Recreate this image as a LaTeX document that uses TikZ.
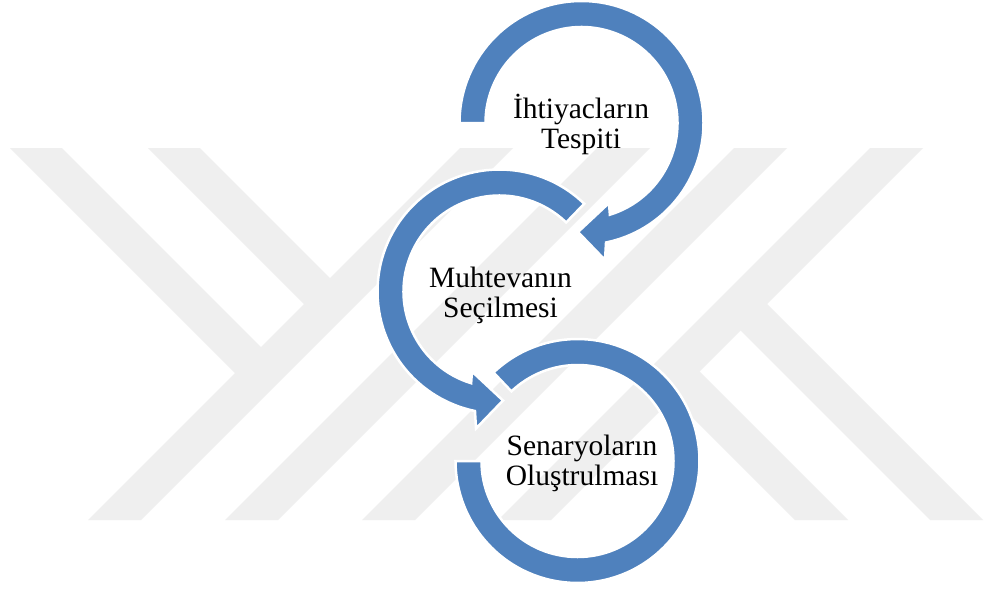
\documentclass[tikz,border=0pt]{standalone}
\usepackage{fontspec}
\setmainfont{Liberation Serif}
\usetikzlibrary{calc}
\definecolor{arrowblue}{RGB}{79,129,189}
\definecolor{wmgray}{RGB}{239,239,239}
\begin{document}
\begin{tikzpicture}[x=1pt,y=1pt,
  ring/.style={fill=arrowblue, draw=white, line width=2.5pt, line join=miter},
  band/.style={fill=wmgray, draw=none},
  cirtext/.style={font=\fontsize{29.5}{30}\selectfont, align=center, inner sep=0pt, text=black}]
\useasboundingbox[fill=white] (0,0) rectangle (985,-590);
% watermark bands
\fill[band] (10,-148) -- (62,-148) -- (274.5,-360.5) -- (248.5,-386.5) -- cycle;
\fill[band] (148,-148) -- (200,-148) -- (343.5,-291.5) -- (317.5,-317.5) -- cycle;
\fill[band] (460,-148) -- (513,-148) -- (141,-520) -- (88,-520) -- cycle;
\fill[band] (597,-148) -- (650,-148) -- (278,-520) -- (225,-520) -- cycle;
\fill[band] (734,-148) -- (787,-148) -- (415,-520) -- (362,-520) -- cycle;
\fill[band] (870,-148) -- (923,-148) -- (551,-520) -- (498,-520) -- cycle;
\fill[band] (660,-385) -- (686.5,-358.5) -- (848,-520) -- (795,-520) -- cycle;
\fill[band] (727.5,-317.5) -- (754,-291) -- (983,-520) -- (930,-520) -- cycle;
% centres
\coordinate (c1) at (581.5,-123);
\coordinate (c2) at (499.5,-291.5);
\coordinate (c3) at (577.5,-461);
% circular arrows
\draw[ring] ($(c1)+(180:122)$) arc[start angle=180, end angle=-78.4, radius=122]
  -- ($(c1)+(23.5,-137)$) -- ($(c1)+(-3.5,-109)$) -- ($(c1)+(27.5,-80)$)
  -- ($(c1)+(-72.8:96)$) arc[start angle=-72.8, end angle=180, radius=96] -- cycle;
\draw[ring] ($(c2)+(46:122)$) arc[start angle=46, end angle=258.4, radius=122]
  -- ($(c2)+(-23.5,-137)$) -- ($(c2)+(3.5,-109)$) -- ($(c2)+(-27.5,-80)$)
  -- ($(c2)+(252.8:96)$) arc[start angle=252.8, end angle=46, radius=96] -- cycle;
\draw[ring] ($(c3)+(133.5:122)$) arc[start angle=133.5, end angle=-180, radius=122]
  -- ($(c3)+(-180:96)$) arc[start angle=-180, end angle=133.5, radius=96] -- cycle;
% texts
\node[cirtext] (t1) at (581,-124) {İhtiyacların\\Tespiti};
\node[cirtext] (t2) at (500.5,-295) {Muhtevanın\\Seçilmesi};
\node[cirtext] (t3) at (582,-463) {Senaryoların\\Oluştrulması};
\end{tikzpicture}
\end{document}
